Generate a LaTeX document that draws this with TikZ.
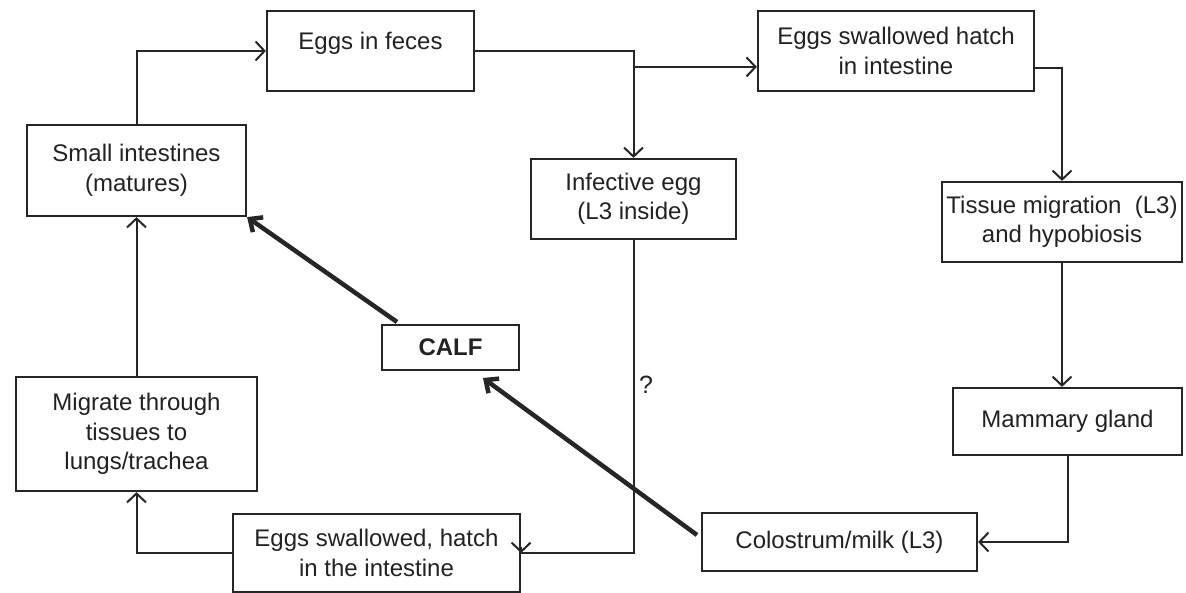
\documentclass[tikz,border=0pt]{standalone}
\usepackage{fontspec}
\setmainfont{Liberation Sans}
\usetikzlibrary{arrows.meta,calc}
\definecolor{ln}{HTML}{262626}
\definecolor{tx}{HTML}{222222}
\begin{document}
\begin{tikzpicture}[x=1pt,y=-1pt,
  box/.style={draw=ln, line width=2.2pt, align=center, inner sep=0pt, text=tx,
    font=\fontsize{24}{29.5}\selectfont},
  flow/.style={draw=ln, line width=2pt, -{Straight Barb[length=9pt,width=19pt]}},
  heavy/.style={draw=ln, line width=4.5pt, -{Straight Barb[length=10pt,width=18pt]}},
  lbl/.style={text=tx, font=\fontsize{25}{29}\selectfont, inner sep=0pt}]
\useasboundingbox (0,0) rectangle (1186,593);
\fill[white] (0,0) rectangle (1186,593);

\node[box, minimum width=207pt, minimum height=80pt] (feces) at (370.5,51) {Eggs in feces\\[-10pt]\mbox{}};
\node[box, minimum width=276pt, minimum height=80pt] (hatchA) at (896,51) {Eggs swallowed hatch\\in intestine};
\node[box, minimum width=219pt, minimum height=91pt] (small) at (136.5,170.5) {Small intestines\\(matures)};
\node[box, minimum width=205pt, minimum height=80pt] (inf) at (633.5,199) {Infective egg\\(L3 inside)};
\node[box, minimum width=240pt, minimum height=80pt] (tissue) at (1062,222) {Tissue migration\ \ (L3)\\and hypobiosis};
\node[box, minimum width=137pt, minimum height=45pt, font=\fontsize{24}{29}\selectfont\bfseries] (calf) at (450.5,347.5) {CALF};
\node[box, minimum width=241pt, minimum height=114pt] (migr) at (136.5,434) {Migrate through\\tissues to\\lungs/trachea};
\node[box, minimum width=229pt, minimum height=67pt] (mam) at (1067.5,421.5) {Mammary gland};
\node[box, minimum width=275pt, minimum height=58pt] (colo) at (839.5,542) {Colostrum/milk (L3)};
\node[box, minimum width=287pt, minimum height=78pt] (hatchB) at (376.5,553) {Eggs swallowed, hatch\\in the intestine};
\node[lbl] (q) at (646,385) {?};

\coordinate (br) at ($(inf.north)+(0,-91)$);
\coordinate (ha) at (1063,68);
\coordinate (ca) at (397,322);
\coordinate (cb) at (483,378);
\coordinate (co) at (697,535);

\draw[flow] (small.north) |- (feces.west);
\draw[flow] (feces.east) -| (inf.north);
\draw[flow] (br) -- (br -| hatchA.west);
\draw[flow] (hatchA.east |- ha) -| (tissue.north);
\draw[flow] (tissue.south) -- (tissue.south |- mam.north);
\draw[flow] (mam.south) |- (colo.east);
\draw[draw=ln, line width=2pt] (inf.south) |- (hatchB.east);
\draw[flow] ([yshift=6pt]hatchB.east) -- (hatchB.east);
\draw[flow] (hatchB.west) -| (migr.south);
\draw[flow] (migr.north) -- (small.south);
\draw[heavy] (ca) -- (small.south east);
\draw[heavy] (co) -- (cb);
\end{tikzpicture}
\end{document}
